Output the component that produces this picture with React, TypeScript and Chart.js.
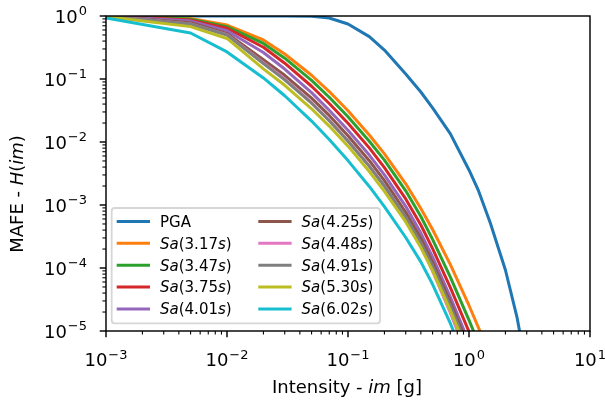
import React, { useEffect, useRef } from 'react';
import { Chart, registerables } from 'chart.js';

Chart.register(...registerables);

// ---------- data ----------
const intensity = [0.001, 0.005, 0.01, 0.02, 0.03, 0.05, 0.07, 0.1, 0.15, 0.2, 0.3, 0.4, 0.5, 0.7, 1.0, 1.5];
const pgaIntensity = [0.001, 0.01, 0.03, 0.05, 0.07, 0.1, 0.15, 0.2, 0.3, 0.4, 0.5, 0.7, 1.0, 1.2, 1.5, 2.0, 2.5, 3.0];

const pgaMafe = [1, 1, 0.999, 0.989, 0.929, 0.746, 0.471, 0.288, 0.12, 0.0622, 0.0347, 0.0136, 3.6e-3, 1.67e-3, 5.18e-4, 9.29e-5, 1.61e-5, 2.4e-6];
const sa317 = [1, 0.912, 0.719, 0.416, 0.249, 0.1146, 0.0632, 0.0313, 0.0129, 6.49e-3, 2.17e-3, 8.81e-4, 4.08e-4, 1.14e-4, 2.54e-5, 4.1e-6];
const sa347 = [1, 0.893, 0.678, 0.367, 0.2143, 0.0953, 0.0513, 0.0252, 0.0103, 5.15e-3, 1.68e-3, 6.58e-4, 2.85e-4, 7.24e-5, 1.49e-5, 2.25e-6];
const sa375 = [1, 0.861, 0.64, 0.319, 0.1782, 0.0767, 0.0408, 0.0199, 8.07e-3, 3.93e-3, 1.25e-3, 4.81e-4, 2.03e-4, 4.92e-5, 9.77e-6, 1.41e-6];
const sa401 = [1, 0.83, 0.585, 0.263, 0.1439, 0.0607, 0.0319, 0.0154, 6.21e-3, 3.0e-3, 9.53e-4, 3.58e-4, 1.5e-4, 3.49e-5, 6.59e-6, 9.04e-7];
const sa425 = [1, 0.782, 0.53, 0.202, 0.1146, 0.0497, 0.0264, 0.0126, 5.05e-3, 2.43e-3, 7.67e-4, 2.95e-4, 1.23e-4, 2.88e-5, 5.47e-6, 7.33e-7];
const sa448 = [1, 0.75, 0.505, 0.181, 0.0998, 0.042, 0.0221, 0.0105, 4.18e-3, 2.0e-3, 6.18e-4, 2.24e-4, 8.93e-5, 1.95e-5, 3.44e-6, 4.36e-7];
const sa491 = [1, 0.746, 0.5, 0.176, 0.0968, 0.0413, 0.0217, 0.0103, 4.1e-3, 2.0e-3, 6.43e-4, 2.52e-4, 1.07e-4, 2.53e-5, 4.75e-6, 6.27e-7];
const sa530 = [0.977, 0.678, 0.44, 0.145, 0.0794, 0.0337, 0.0179, 8.59e-3, 3.4e-3, 1.65e-3, 5.38e-4, 2.11e-4, 9.1e-5, 2.13e-5, 4.04e-6, 5.22e-7];
const sa602 = [0.929, 0.537, 0.269, 0.104, 0.0542, 0.0215, 0.01096, 5.07e-3, 1.97e-3, 9.44e-4, 3.05e-4, 1.25e-4, 5.52e-5, 1.33e-5, 2.48e-6, 3.02e-7];

const periods = ['3.17', '3.47', '3.75', '4.01', '4.25', '4.48', '4.91', '5.30', '6.02'];
const saSeries = [sa317, sa347, sa375, sa401, sa425, sa448, sa491, sa530, sa602];
const colors = ['#1f77b4', '#ff7f0e', '#2ca02c', '#d62728', '#9467bd', '#8c564b', '#e377c2', '#7f7f7f', '#bcbd22', '#17becf'];

const xTickExps = [-3, -2, -1, 0, 1];
const yTickExps = [0, -1, -2, -3, -4, -5];

// ---------- drawing helpers ----------
const FONT = "'DejaVu Sans', sans-serif";
type Seg = { t: string; i?: boolean };

function fontOf(size: number, italic?: boolean) {
  return `${italic ? 'italic ' : ''}${size}px ${FONT}`;
}

function drawRich(ctx: CanvasRenderingContext2D, segs: Seg[], x: number, y: number, size: number, align: 'left' | 'center' | 'right') {
  const widths = segs.map((s) => {
    ctx.font = fontOf(size, s.i);
    return ctx.measureText(s.t).width;
  });
  const total = widths.reduce((a, b) => a + b, 0);
  let cx = align === 'center' ? x - total / 2 : align === 'right' ? x - total : x;
  ctx.textAlign = 'left';
  ctx.textBaseline = 'alphabetic';
  segs.forEach((s, k) => {
    ctx.font = fontOf(size, s.i);
    ctx.fillText(s.t, cx, y);
    cx += widths[k];
  });
}

function expText(e: number) {
  return e < 0 ? '\u2212' + String(-e) : String(e);
}

function drawPow(ctx: CanvasRenderingContext2D, e: number, x: number, baseY: number, align: 'center' | 'right') {
  const baseSize = 18;
  const supSize = 13;
  ctx.font = fontOf(baseSize);
  const wb = ctx.measureText('10').width;
  ctx.font = fontOf(supSize);
  const sup = expText(e);
  const ws = ctx.measureText(sup).width;
  const gap = 1;
  const total = wb + gap + ws;
  const left = align === 'center' ? x - total / 2 : x - total;
  ctx.textAlign = 'left';
  ctx.textBaseline = 'alphabetic';
  ctx.font = fontOf(baseSize);
  ctx.fillText('10', left, baseY);
  ctx.font = fontOf(supSize);
  ctx.fillText(sup, left + wb + gap, baseY - 7.5);
}

function labelSegs(label: string): Seg[] {
  if (label === 'PGA') return [{ t: 'PGA' }];
  const p = label.slice(3, label.length - 2);
  return [{ t: 'Sa', i: true }, { t: '(' }, { t: p }, { t: 's', i: true }, { t: ')' }];
}

const axesPlugin = {
  id: 'mplAxes',
  afterDatasetsDraw(chart: any) {
    const ctx: CanvasRenderingContext2D = chart.ctx;
    const { left, right, top, bottom } = chart.chartArea;
    const xs = chart.scales.x;
    const ys = chart.scales.y;
    ctx.save();
    ctx.fillStyle = '#000';
    ctx.strokeStyle = '#000';

    // spines
    ctx.lineWidth = 1.44;
    ctx.strokeRect(left, top, right - left, bottom - top);

    // ticks
    const drawTicks = (scale: any, horizontal: boolean) => {
      const lo = Math.round(Math.log10(scale.min));
      const hi = Math.round(Math.log10(scale.max));
      for (let n = lo; n <= hi; n++) {
        for (let m = 1; m <= 9; m++) {
          const v = m * Math.pow(10, n);
          if (v < scale.min * 0.999 || v > scale.max * 1.001) continue;
          const p = scale.getPixelForValue(v);
          const major = m === 1;
          const len = major ? 6.3 : 3.6;
          ctx.lineWidth = major ? 1.44 : 1.08;
          ctx.beginPath();
          if (horizontal) {
            ctx.moveTo(p, bottom);
            ctx.lineTo(p, bottom + len);
          } else {
            ctx.moveTo(left, p);
            ctx.lineTo(left - len, p);
          }
          ctx.stroke();
        }
      }
    };
    drawTicks(xs, true);
    drawTicks(ys, false);

    // tick labels
    xTickExps.forEach((e) => {
      const p = xs.getPixelForValue(Math.pow(10, e));
      drawPow(ctx, e, p, bottom + 35, 'center');
    });
    yTickExps.forEach((e) => {
      const p = ys.getPixelForValue(Math.pow(10, e));
      drawPow(ctx, e, left - 19, p + 6.5, 'right');
    });

    // axis titles
    drawRich(ctx, [{ t: 'Intensity - ' }, { t: 'im', i: true }, { t: ' [g]' }], (left + right) / 2 - 1, bottom + 62, 18, 'center');
    ctx.save();
    ctx.translate(16.7, 194);
    ctx.rotate(-Math.PI / 2);
    drawRich(ctx, [{ t: 'MAFE - ' }, { t: 'H', i: true }, { t: '(' }, { t: 'im', i: true }, { t: ')' }], 0, 6.6, 18, 'center');
    ctx.restore();

    // legend
    const bx = left + 5.7;
    const by = bottom - 123;
    const bw = 268.3;
    const bh = 115.3;
    const r = 3;
    ctx.beginPath();
    ctx.moveTo(bx + r, by);
    ctx.lineTo(bx + bw - r, by);
    ctx.quadraticCurveTo(bx + bw, by, bx + bw, by + r);
    ctx.lineTo(bx + bw, by + bh - r);
    ctx.quadraticCurveTo(bx + bw, by + bh, bx + bw - r, by + bh);
    ctx.lineTo(bx + r, by + bh);
    ctx.quadraticCurveTo(bx, by + bh, bx, by + bh - r);
    ctx.lineTo(bx, by + r);
    ctx.quadraticCurveTo(bx, by, bx + r, by);
    ctx.closePath();
    ctx.fillStyle = 'rgba(255,255,255,0.8)';
    ctx.fill();
    ctx.strokeStyle = 'rgba(204,204,204,0.8)';
    ctx.lineWidth = 1.8;
    ctx.stroke();

    const dsets = chart.data.datasets;
    dsets.forEach((ds: any, i: number) => {
      const col = i < 5 ? 0 : 1;
      const row = i % 5;
      const cy = by + 13.4 + row * 21.9;
      const hx = col === 0 ? bx + 5 : bx + 146.6;
      ctx.strokeStyle = ds.borderColor;
      ctx.lineWidth = 3;
      ctx.lineCap = 'butt';
      ctx.beginPath();
      ctx.moveTo(hx, cy);
      ctx.lineTo(hx + 33.3, cy);
      ctx.stroke();
      ctx.fillStyle = '#000';
      drawRich(ctx, labelSegs(ds.label), hx + 43.3, cy + 5.3, 15, 'left');
    });

    ctx.restore();
  },
};

export default function App() {
  const canvasRef = useRef<HTMLCanvasElement | null>(null);

  useEffect(() => {
    if (!canvasRef.current) return;
    const datasets: any[] = [];
    datasets.push({
      label: 'PGA',
      data: pgaIntensity.map((x, k) => ({ x, y: pgaMafe[k] })),
      borderColor: colors[0],
      backgroundColor: colors[0],
    });
    saSeries.forEach((s, j) => {
      datasets.push({
        label: `Sa(${periods[j]}s)`,
        data: intensity.map((x, k) => ({ x, y: s[k] })),
        borderColor: colors[j + 1],
        backgroundColor: colors[j + 1],
      });
    });
    datasets.forEach((d, i) => {
      d.borderWidth = 3;
      d.pointRadius = 0;
      d.pointHoverRadius = 0;
      d.tension = 0;
      d.fill = false;
      d.clip = 0;
      d.order = 20 - i;
      d.borderJoinStyle = 'round';
      d.borderCapStyle = 'butt';
    });

    const chart = new Chart(canvasRef.current, {
      type: 'line',
      data: { datasets },
      options: {
        animation: false,
        responsive: false,
        devicePixelRatio: 1,
        events: [],
        layout: { padding: { top: 16, right: 15, left: 0, bottom: 0 } },
        plugins: { legend: { display: false }, tooltip: { enabled: false }, title: { display: false } },
        scales: {
          x: {
            type: 'logarithmic',
            min: 1e-3,
            max: 10,
            ticks: { display: false },
            grid: { display: false },
            border: { display: false },
            afterFit: (s: any) => {
              s.height = 73;
            },
          },
          y: {
            type: 'logarithmic',
            min: 1e-5,
            max: 1,
            ticks: { display: false },
            grid: { display: false },
            border: { display: false },
            afterFit: (s: any) => {
              s.width = 106;
            },
          },
        },
      } as any,
      plugins: [axesPlugin],
    });
    return () => chart.destroy();
  }, []);

  return (
    <div style={{ position: 'absolute', left: 0, top: 0, width: 605, height: 404, background: '#fff' }}>
      <canvas ref={canvasRef} width={605} height={404} style={{ width: 605, height: 404 }} />
    </div>
  );
}
